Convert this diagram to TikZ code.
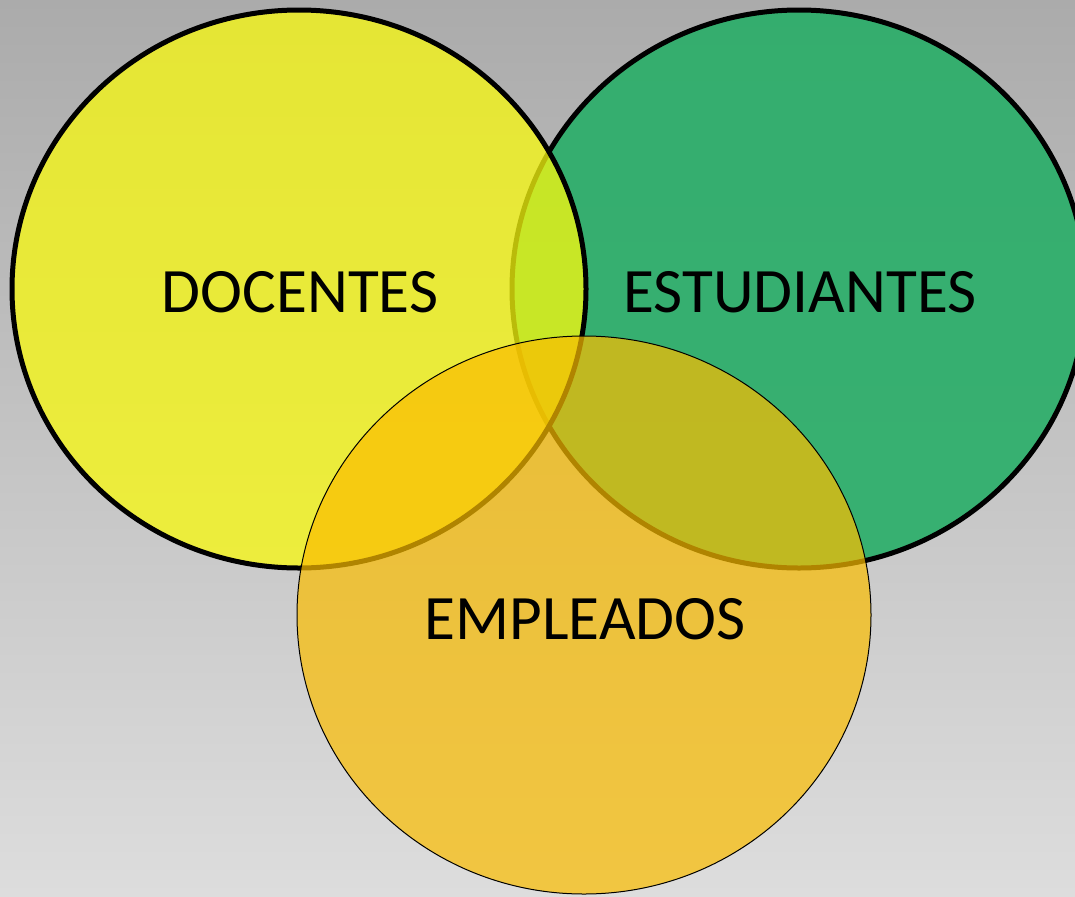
\documentclass[tikz,border=0pt]{standalone}
\usepackage{fontspec}
\setmainfont{Carlito}
\definecolor{bgtop}{RGB}{171,171,171}
\definecolor{bgbottom}{RGB}{221,221,221}
\definecolor{docyellow}{RGB}{249,250,14}
\definecolor{estgreen}{RGB}{40,174,104}
\definecolor{empgold}{RGB}{251,189,0}
\tikzset{
  setlabel/.style={font=\fontsize{36}{42}\selectfont, text=black, inner sep=0pt},
  bigset/.style={line width=0.1cm, draw=black},
}
\begin{document}
\begin{tikzpicture}[x=0.02cm, y=-0.02cm]
        % --- Draw background ---
        \shade[top color=bgtop, bottom color=bgbottom] (0,0) rectangle (1075,896);
        \useasboundingbox (0,0) rectangle (1075,896);
        % ---

        % --- Draw the three sets ---
        \draw[bigset, fill=estgreen, fill opacity=0.9] (799,289) ellipse (287 and 279);
        \draw[bigset, fill=docyellow, fill opacity=0.75, draw opacity=1] (299,289) ellipse (287 and 279);
        \draw[line width=0.02cm, fill=empgold, fill opacity=0.7] (584,615) ellipse (287 and 279);
        % ---

        % --- Set labels ---
        \node[setlabel] (docentes) at (300,292) {DOCENTES};
        \node[setlabel] (estudiantes) at (800,292) {ESTUDIANTES};
        \node[setlabel] (empleados) at (585,619) {EMPLEADOS};
        % ---
\end{tikzpicture}
\end{document}
